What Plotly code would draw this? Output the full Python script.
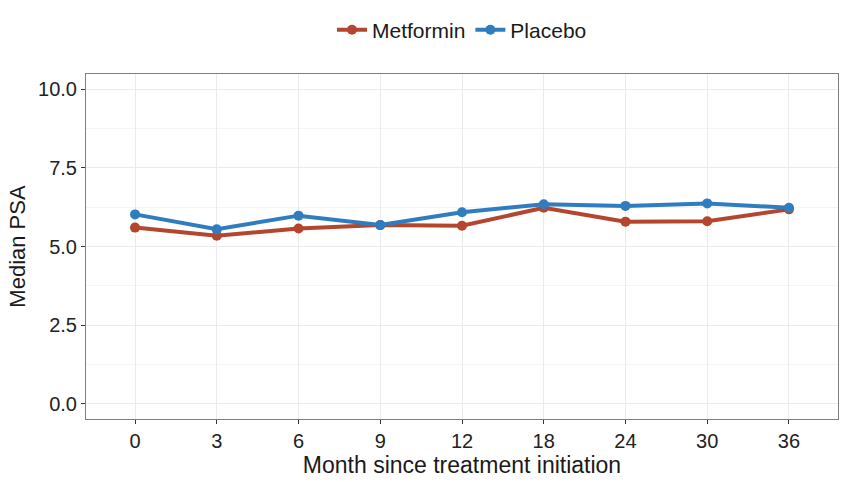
import plotly.graph_objects as go

months = ["0", "3", "6", "9", "12", "18", "24", "30", "36"]
metformin = [5.60, 5.34, 5.57, 5.68, 5.66, 6.23, 5.79, 5.80, 6.18]
placebo = [6.02, 5.55, 5.98, 5.68, 6.09, 6.34, 6.29, 6.37, 6.23]
y_ticks = [0, 2.5, 5.0, 7.5, 10.0]
y_tick_labels = ["0.0", "2.5", "5.0", "7.5", "10.0"]

met_color = "#B4462F"
pla_color = "#2F7DBE"

fig = go.Figure()
fig.add_trace(go.Scatter(x=months, y=metformin, mode="lines+markers", name="Metformin",
                         line=dict(color=met_color, width=4), marker=dict(size=10, color=met_color)))
fig.add_trace(go.Scatter(x=months, y=placebo, mode="lines+markers", name="Placebo",
                         line=dict(color=pla_color, width=4), marker=dict(size=10, color=pla_color)))

font = "Liberation Sans, Arial, sans-serif"
fig.update_layout(
    width=844, height=482,
    margin=dict(l=86, r=6, t=74, b=63, autoexpand=False),
    paper_bgcolor="white", plot_bgcolor="white",
    font=dict(family=font, color="#1a1a1a"),
    legend=dict(orientation="h", x=0.5, xanchor="center", y=0.98, yanchor="top",
                yref="container", font=dict(size=21), itemwidth=30, tracegroupgap=0),
    showlegend=True,
)
fig.update_xaxes(
    type="category", range=[-0.6, 8.6], automargin=False,
    showgrid=True, gridcolor="#EBEBEB", gridwidth=1,
    showline=True, linecolor="#7F7F7F", linewidth=1, mirror=True,
    ticks="outside", ticklen=4, tickcolor="#333333",
    tickfont=dict(size=20, color="#222222"),
    title=dict(text="Month since treatment initiation", font=dict(size=23), standoff=4),
    zeroline=False,
)
fig.update_yaxes(
    range=[-0.48, 10.48], tickvals=y_ticks, ticktext=y_tick_labels, automargin=False,
    showgrid=True, gridcolor="#EBEBEB", gridwidth=1,
    minor=dict(tickvals=[1.25, 3.75, 6.25, 8.75], showgrid=True, gridcolor="#F4F4F4", gridwidth=1),
    showline=True, linecolor="#7F7F7F", linewidth=1, mirror=True,
    ticks="outside", ticklen=4, tickcolor="#333333",
    tickfont=dict(size=20, color="#222222"),
    title=dict(text="Median PSA", font=dict(size=22), standoff=6),
    zeroline=False,
)

fig.write_html("out.html", config={"displayModeBar": False},
               post_script="document.body.style.margin='0';document.body.style.overflow='hidden';")
